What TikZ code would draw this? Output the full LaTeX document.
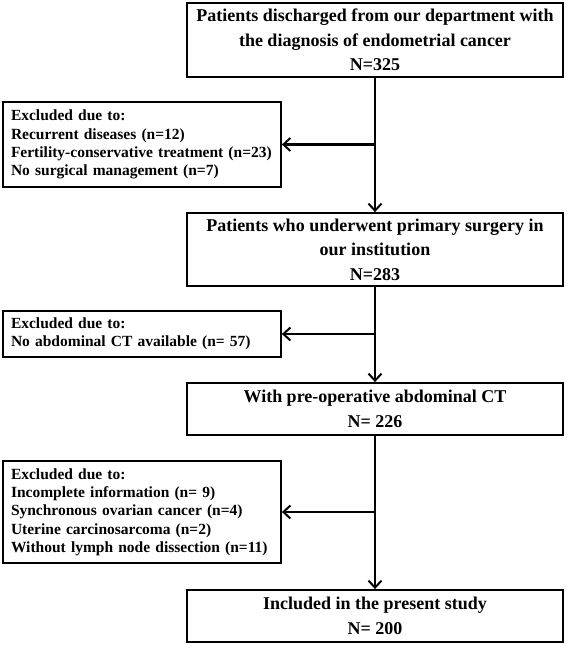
\documentclass[tikz,border=0pt]{standalone}
\usepackage{fontspec}
\setmainfont{Liberation Serif}
\usetikzlibrary{arrows.meta}
\begin{document}
\begin{tikzpicture}[x=1pt,y=-1pt,
  mainbox/.style={draw, line width=1.8pt, minimum width=376pt, align=center, inner sep=0pt,
    font=\fontsize{18}{24.5}\bfseries\selectfont},
  sidebox/.style={draw, line width=1.8pt, minimum width=278pt, text width=262pt, align=left, inner sep=0pt,
    font=\fontsize{15.5}{18.3}\bfseries\selectfont},
  conn/.style={line width=2.2pt, -{Straight Barb[length=7pt,width=13pt,line width=2pt]}}]
\useasboundingbox (0,0) rectangle (567,645);
\node[mainbox, minimum height=74pt] (b1) at (375,40) {Patients discharged from our department with\\the diagnosis of endometrial cancer\\N=325};
\node[mainbox, minimum height=73pt] (b2) at (375,249.5) {Patients who underwent primary surgery in\\our institution\\N=283};
\node[mainbox, minimum height=52pt] (b3) at (375,409) {With pre-operative abdominal CT\\N= 226};
\node[mainbox, minimum height=52pt] (b4) at (375,616) {Included in the present study\\N= 200};
\node[sidebox, minimum height=85pt] (s1) at (142,144.5) {Excluded due to:\\Recurrent diseases (n=12)\\Fertility-conservative treatment (n=23)\\No surgical management (n=7)};
\node[sidebox, minimum height=46pt] (s2) at (142,334) {Excluded due to:\\No abdominal CT available (n= 57)};
\node[sidebox, minimum height=102pt] (s3) at (142,512) {Excluded due to:\\Incomplete information (n= 9)\\Synchronous ovarian cancer (n=4)\\Uterine carcinosarcoma (n=2)\\Without lymph node dissection (n=11)};
\draw[conn] (b1.south) -- (b2.north);
\draw[conn] (b2.south) -- (b3.north);
\draw[conn] (b3.south) -- (b4.north);
\draw[conn] (b1.south |- s1.east) -- (s1.east);
\draw[conn] (b2.south |- s2.east) -- (s2.east);
\draw[conn] (b3.south |- s3.east) -- (s3.east);
\end{tikzpicture}
\end{document}
